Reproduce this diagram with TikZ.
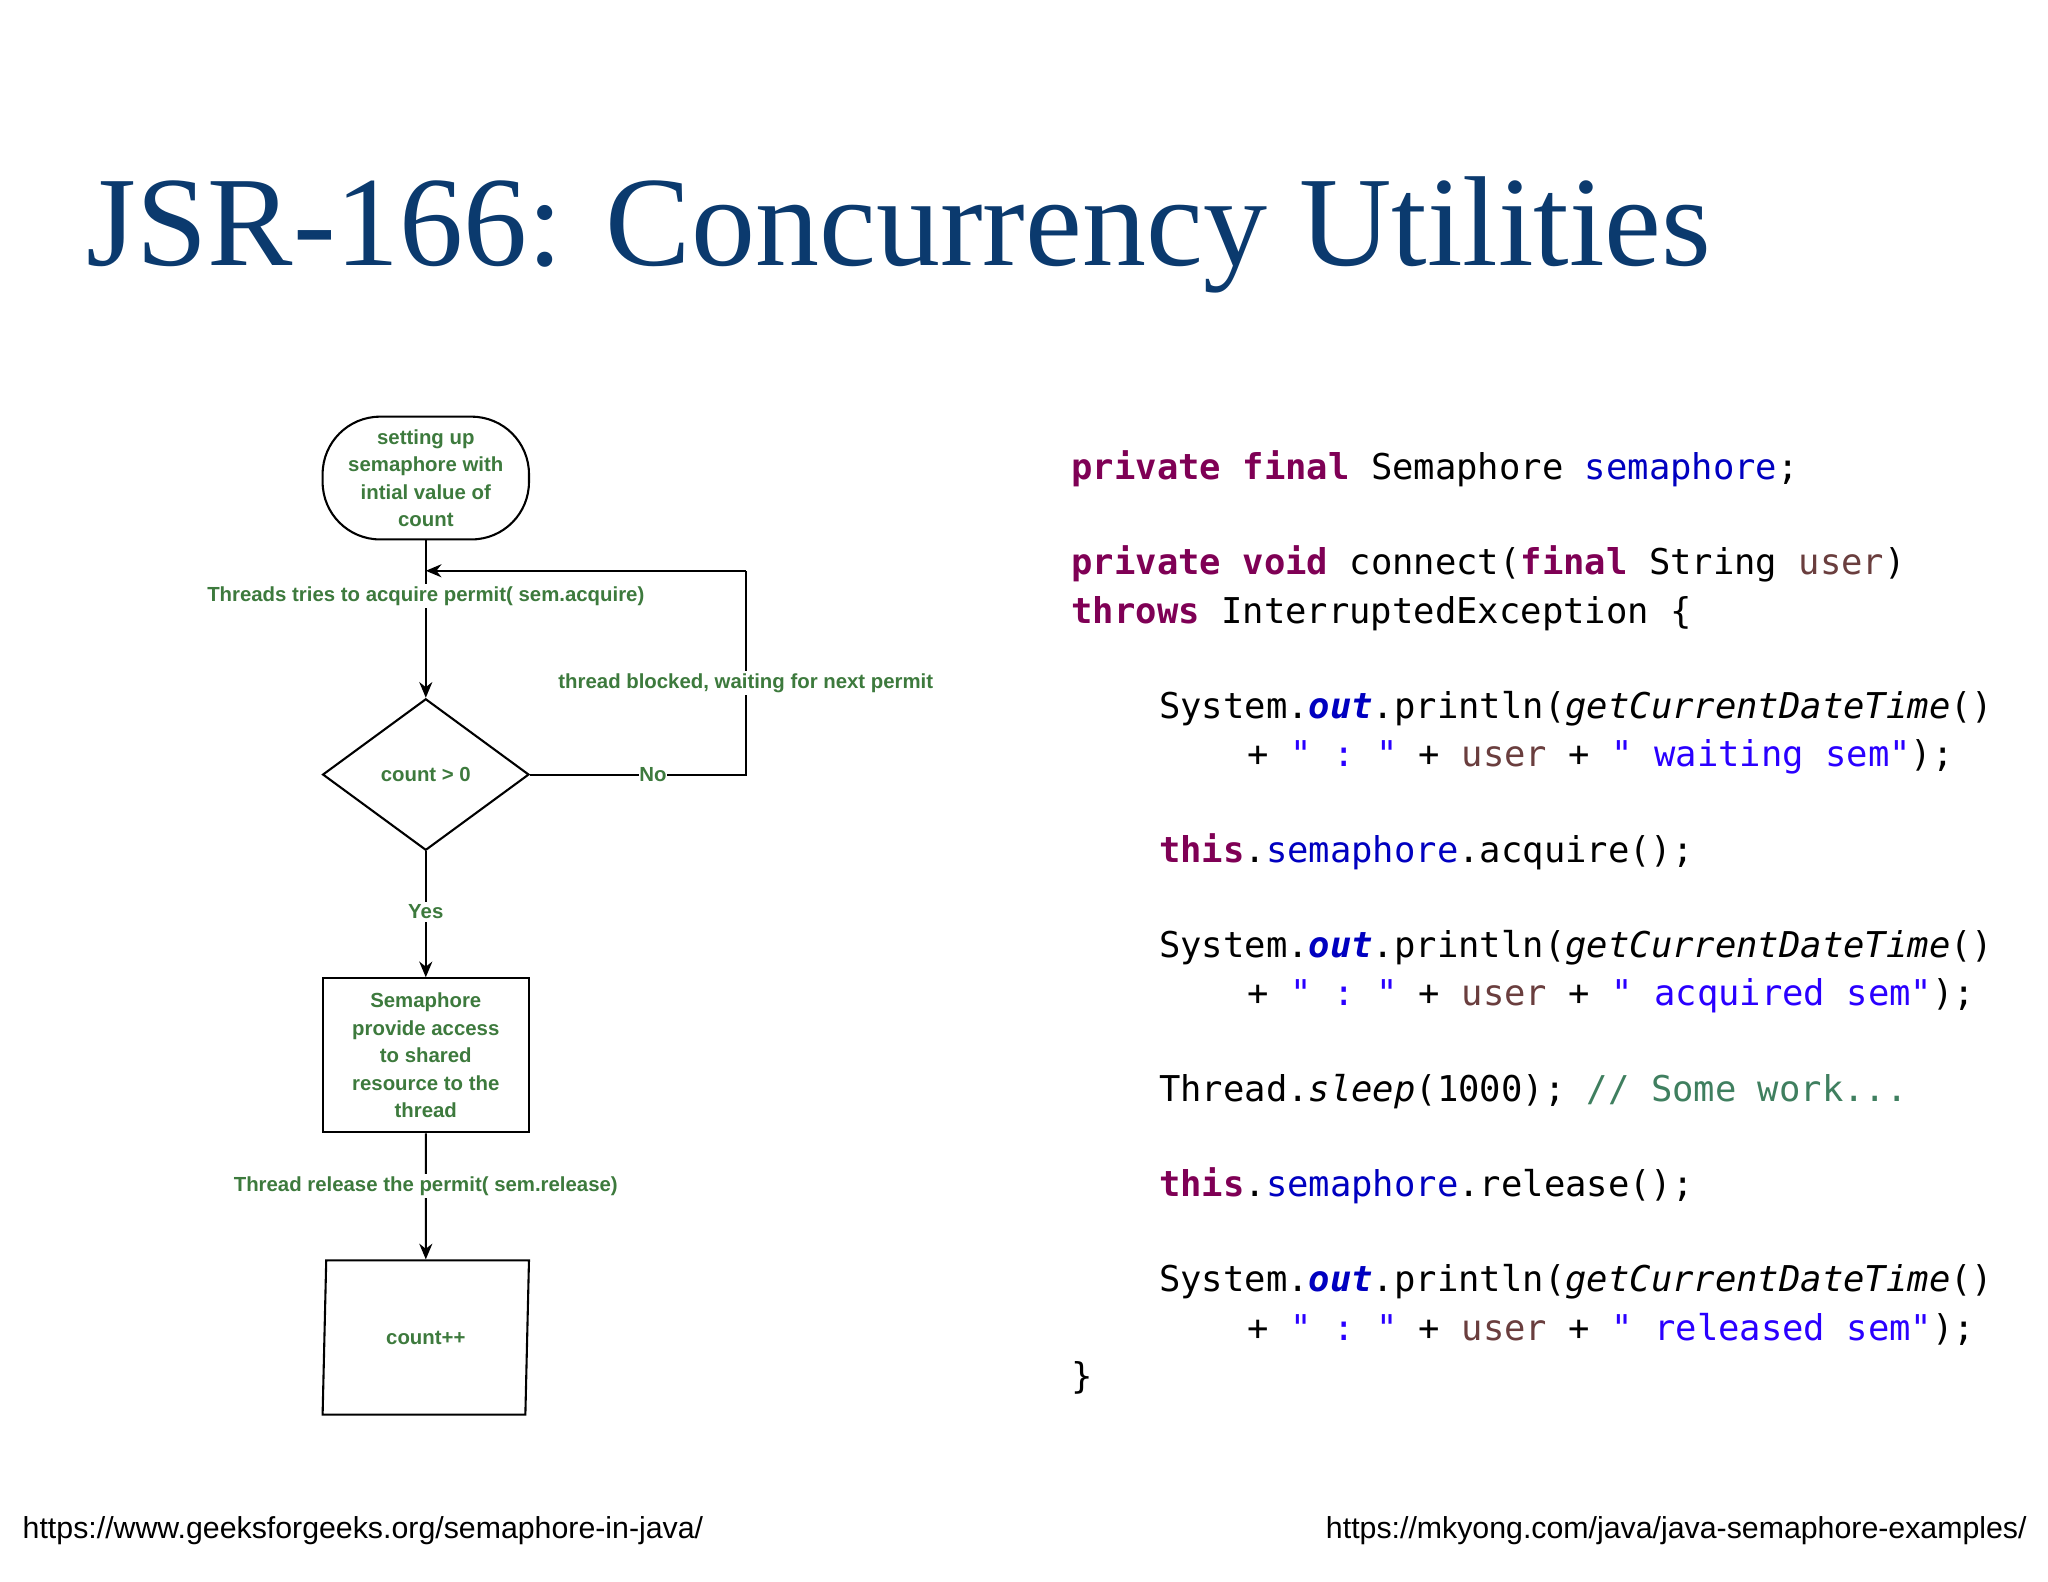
\documentclass[tikz,border=0pt]{standalone}
\usepackage{fontspec}
\setmainfont{Liberation Serif}
\setsansfont{Liberation Sans}
\setmonofont{DejaVu Sans Mono}
\usetikzlibrary{arrows.meta,shapes.geometric}
\definecolor{ttl}{HTML}{0B3A6E}
\definecolor{grn}{HTML}{3D7A3D}
\definecolor{kw}{HTML}{7F0055}
\definecolor{fld}{HTML}{0000C0}
\definecolor{prm}{HTML}{6A3E3E}
\definecolor{str}{HTML}{2A00FF}
\definecolor{cmt}{HTML}{3F7F5F}
\newcommand{\K}[1]{\textcolor{kw}{\textbf{#1}}}
\newcommand{\F}[1]{\textcolor{fld}{#1}}
\newcommand{\U}{\textcolor{prm}{user}}
\newcommand{\Sx}[1]{\textcolor{str}{#1}}
\newcommand{\OUT}{\textcolor{fld}{\textbf{\textit{out}}}}
\begin{document}
\begin{tikzpicture}[x=0.5pt,y=-0.5pt,
  fc/.style={draw,thick,text=grn,font=\sffamily\bfseries\fontsize{7.8}{10.5}\selectfont,align=center,inner sep=0pt},
  lbl/.style={fill=white,text=grn,font=\sffamily\bfseries\fontsize{7.8}{9}\selectfont,inner sep=1pt},
  arr/.style={thick,-{Stealth[length=6pt,width=5pt]}},
  code/.style={anchor=base west,font=\ttfamily\fontsize{13.6}{16}\selectfont,inner sep=0pt}]
\useasboundingbox (0,0) rectangle (1568,1211);
\node[anchor=base west,text=ttl,font=\fontsize{49}{55}\selectfont,inner sep=0pt] (title) at (66,203) {JSR-166: Concurrency Utilities};
% flowchart
\node[fc,rounded corners=22pt,minimum width=79pt,minimum height=47pt] (start) at (326,366) {setting up\\semaphore with\\intial value of\\count};
\node[fc,diamond,aspect=1.36,minimum width=79pt,minimum height=58pt] (dec) at (326,593) {count > 0};
\node[fc,minimum width=79pt,minimum height=59pt] (sem) at (326,808) {Semaphore\\provide access\\to shared\\resource to the\\thread};
\node[fc,trapezium,trapezium stretches body,trapezium left angle=75,trapezium right angle=105,minimum width=79pt,minimum height=59pt] (cnt) at (326,1024) {count++};
\coordinate (j1) at (326,437);
\coordinate (c1a) at (571,593);
\coordinate (c1b) at (571,437);
\draw[thick] (start.south) -- (j1);
\draw[arr] (j1) -- node[lbl,pos=0.2]{Threads tries to acquire permit( sem.acquire)} (dec.north);
\draw[thick] (dec.east) -- node[lbl,pos=0.57,inner sep=0pt]{No} (c1a) -- node[lbl,pos=0.45]{thread blocked, waiting for next permit} (c1b);
\draw[arr] (c1b) -- (j1);
\draw[arr] (dec.south) -- node[lbl,pos=0.48]{Yes} (sem.north);
\draw[arr] (sem.south) -- node[lbl,pos=0.42]{Thread release the permit( sem.release)} (cnt.north);
% code
\node[code] (l1) at (820,367) {\K{private} \K{final} Semaphore \F{semaphore};};
\node[code] (l2) at (820,440) {\K{private} \K{void} connect(\K{final} String \U)};
\node[code] (l3) at (820,477) {\K{throws} InterruptedException \{};
\node[code] (l4) at (887,550) {System.\OUT.println(\textit{getCurrentDateTime}()};
\node[code] (l5) at (955,587) {+ \Sx{" : "} + \U{} + \Sx{" waiting sem"});};
\node[code] (l6) at (887,660) {\K{this}.\F{semaphore}.acquire();};
\node[code] (l7) at (887,733) {System.\OUT.println(\textit{getCurrentDateTime}()};
\node[code] (l8) at (955,770) {+ \Sx{" : "} + \U{} + \Sx{" acquired sem"});};
\node[code] (l9) at (887,843) {Thread.\textit{sleep}(1000); \textcolor{cmt}{// Some work...}};
\node[code] (l10) at (887,916) {\K{this}.\F{semaphore}.release();};
\node[code] (l11) at (887,989) {System.\OUT.println(\textit{getCurrentDateTime}()};
\node[code] (l12) at (955,1026) {+ \Sx{" : "} + \U{} + \Sx{" released sem"});};
\node[code] (l13) at (820,1063) {\}};
% footers
\node[anchor=base west,font=\sffamily\fontsize{11.6}{13}\selectfont,inner sep=0pt] (f1) at (17,1178) {https://www.geeksforgeeks.org/semaphore-in-java/};
\node[anchor=base east,font=\sffamily\fontsize{11.6}{13}\selectfont,inner sep=0pt] (f2) at (1552,1178) {https://mkyong.com/java/java-semaphore-examples/};
\end{tikzpicture}
\end{document}
